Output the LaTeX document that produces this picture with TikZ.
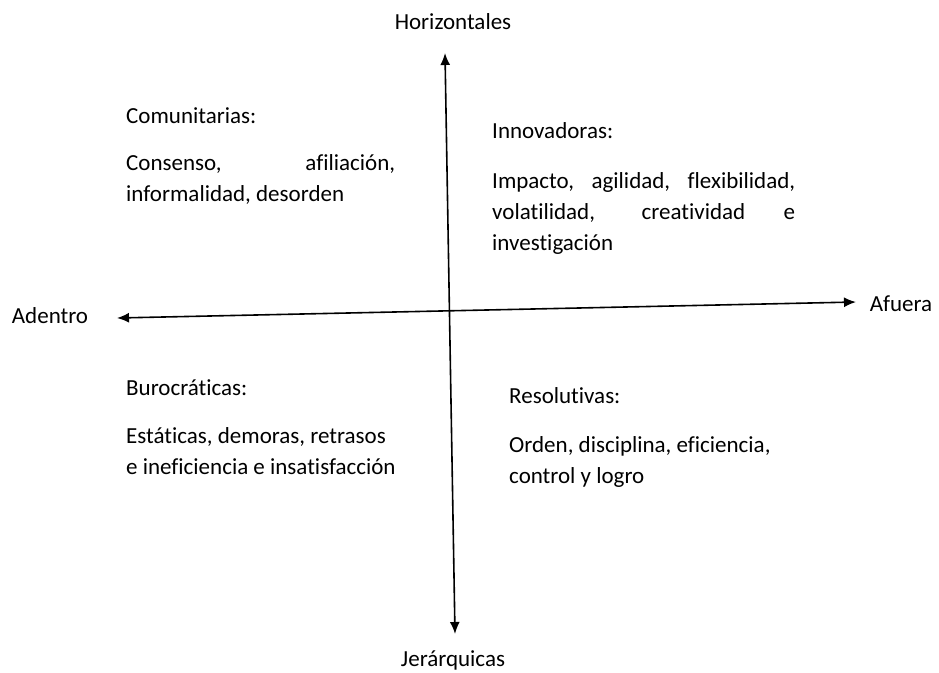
\documentclass[tikz,border=0pt]{standalone}
\usepackage{fontspec}
\setmainfont{Carlito}[Ligatures=NoCommon]
\usepackage{tikz}
\usetikzlibrary{arrows.meta}

\tikzset{
  axis/.style={{Latex[length=12pt,width=10pt]}-{Latex[length=12pt,width=10pt]}, line width=1.6pt},
  lbl/.style={inner sep=0pt},
  quad/.style={inner sep=0pt, anchor=base west, align=left}
}
\newcommand{\stretchline}[2]{\makebox[#1][s]{#2}}

\begin{document}
\begin{tikzpicture}[x=1pt, y=-1pt]
  \fontsize{23}{31}\selectfont
  \useasboundingbox (0,0) rectangle (939,672);
  % axes
  \coordinate (top) at (445,53);
  \coordinate (bottom) at (455,634);
  \coordinate (left) at (117,318);
  \coordinate (right) at (856,302);
  \draw[axis] (bottom) -- (top);
  \draw[axis] (left) -- (right);
  \node[lbl] (horiz) at (453,22) {Horizontales};
  \node[lbl] (jerar) at (453,660) {Jerárquicas};
  \node[lbl] (adentro) at (50,316) {Adentro};
  \node[lbl] (afuera) at (901,304) {Afuera};
  % quadrants (body nodes sit on the baseline of their last line)
  \node[quad] (comT) at (126,123) {Comunitarias:};
  \node[quad] (comB) at (126,201) {\stretchline{269pt}{Consenso, afiliación,}\\informalidad, desorden};
  \node[quad] (innT) at (492,138) {Innovadoras:};
  \node[quad] (innB) at (492,250) {\stretchline{303pt}{Impacto, agilidad, flexibilidad,}\\\stretchline{303pt}{volatilidad, creatividad e}\\investigación};
  \node[quad] (burT) at (126,395) {Burocráticas:};
  \node[quad] (burB) at (126,474) {Estáticas, demoras, retrasos\\e ineficiencia e insatisfacción};
  \node[quad] (resT) at (509,403) {Resolutivas:};
  \node[quad] (resB) at (509,483) {Orden, disciplina, eficiencia,\\control y logro};
\end{tikzpicture}
\end{document}
